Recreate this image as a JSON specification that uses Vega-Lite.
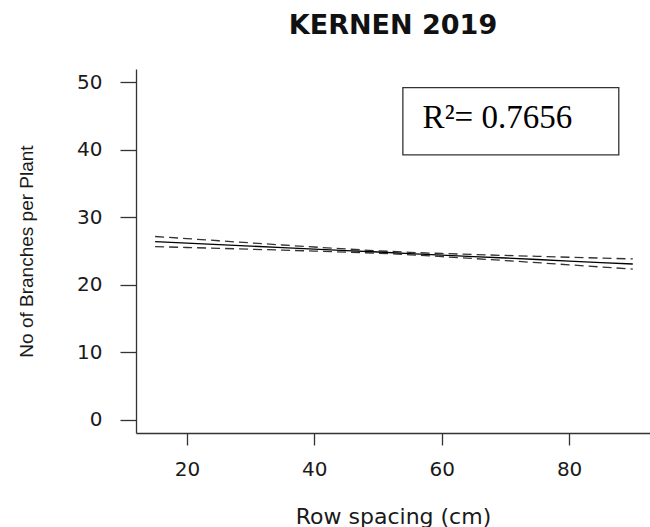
{
  "$schema": "https://vega.github.io/schema/vega-lite/v6.json",
  "autosize": {"type": "none"},
  "padding": {"left": 136, "top": 69, "right": 0, "bottom": 94},
  "width": 514,
  "height": 364,
  "background": "white",
  "title": {
    "text": "KERNEN 2019",
    "font": "DejaVu Sans",
    "fontWeight": "bold",
    "fontSize": 27,
    "color": "#111111",
    "anchor": "middle",
    "baseline": "alphabetic",
    "offset": 8
  },
  "config": {
    "view": {"stroke": null},
    "axis": {
      "grid": false,
      "domainColor": "#333333",
      "domainWidth": 1.3,
      "tickColor": "#333333",
      "tickWidth": 1.3,
      "labelColor": "#1a1a1a",
      "titleColor": "#1a1a1a",
      "titleFontWeight": "normal"
    }
  },
  "datasets": {
    "fit": [
      {"spacing": 15, "fit": 26.40, "lwr": 25.65, "upr": 27.15},
      {"spacing": 20, "fit": 26.18, "lwr": 25.52, "upr": 26.84},
      {"spacing": 25, "fit": 25.96, "lwr": 25.40, "upr": 26.52},
      {"spacing": 30, "fit": 25.73, "lwr": 25.26, "upr": 26.20},
      {"spacing": 35, "fit": 25.51, "lwr": 25.13, "upr": 25.89},
      {"spacing": 40, "fit": 25.29, "lwr": 24.99, "upr": 25.59},
      {"spacing": 45, "fit": 25.07, "lwr": 24.84, "upr": 25.30},
      {"spacing": 50, "fit": 24.85, "lwr": 24.67, "upr": 25.03},
      {"spacing": 55, "fit": 24.62, "lwr": 24.44, "upr": 24.80},
      {"spacing": 60, "fit": 24.40, "lwr": 24.17, "upr": 24.63},
      {"spacing": 65, "fit": 24.18, "lwr": 23.88, "upr": 24.48},
      {"spacing": 70, "fit": 23.96, "lwr": 23.58, "upr": 24.34},
      {"spacing": 75, "fit": 23.74, "lwr": 23.27, "upr": 24.21},
      {"spacing": 80, "fit": 23.51, "lwr": 22.95, "upr": 24.07},
      {"spacing": 85, "fit": 23.29, "lwr": 22.63, "upr": 23.95},
      {"spacing": 90, "fit": 23.07, "lwr": 22.32, "upr": 23.82}
    ],
    "note": [
      {"x0": 53.9, "x1": 87.8, "y0": 39.26, "y1": 49.23, "tx": 57.0, "ty": 43.2, "label": "R²= 0.7656"}
    ]
  },
  "encoding": {
    "x": {
      "field": "spacing",
      "type": "quantitative",
      "scale": {"domain": [12, 92.7], "nice": false, "zero": false},
      "axis": {
        "title": "Row spacing (cm)",
        "values": [20, 40, 60, 80],
        "tickSize": 12,
        "labelPadding": 14,
        "labelFont": "DejaVu Sans",
        "labelFontSize": 20,
        "labelBaseline": "top",
        "titleFont": "DejaVu Sans",
        "titleFontSize": 22,
        "titleBaseline": "alphabetic",
        "titleY": 90
      }
    }
  },
  "layer": [
    {
      "mark": {"type": "rule", "color": "#333333", "strokeWidth": 1.3},
      "encoding": {"y": {"datum": 52, "type": "quantitative", "scale": {"domain": [-2, 52], "nice": false, "zero": false}}, "x": null}
    },
    {
      "data": {"name": "fit"},
      "mark": {"type": "line", "color": "#333333", "strokeWidth": 1.3, "strokeDash": [9, 5]},
      "encoding": {
        "y": {
          "field": "upr",
          "type": "quantitative",
          "scale": {"domain": [-2, 52], "nice": false, "zero": false},
          "axis": {
            "title": "No of Branches per Plant",
            "values": [0, 10, 20, 30, 40, 50],
            "tickSize": 16,
            "labelPadding": 18,
            "labelFont": "DejaVu Sans",
            "labelFontSize": 20,
            "titleFont": "Liberation Sans",
            "titleFontSize": 19,
            "titleBaseline": "alphabetic",
            "titleX": -104
          }
        }
      }
    },
    {
      "data": {"name": "fit"},
      "mark": {"type": "line", "color": "#333333", "strokeWidth": 1.3, "strokeDash": [9, 5]},
      "encoding": {"y": {"field": "lwr", "type": "quantitative"}}
    },
    {
      "data": {"name": "fit"},
      "mark": {"type": "line", "color": "#000000", "strokeWidth": 1.3},
      "encoding": {"y": {"field": "fit", "type": "quantitative"}}
    },
    {
      "data": {"name": "note"},
      "mark": {"type": "rect", "fill": "white", "stroke": "#333333", "strokeWidth": 1.3},
      "encoding": {
        "x": {"field": "x0", "type": "quantitative"},
        "x2": {"field": "x1"},
        "y": {"field": "y0", "type": "quantitative"},
        "y2": {"field": "y1"}
      }
    },
    {
      "data": {"name": "note"},
      "mark": {"type": "text", "font": "Liberation Serif", "fontSize": 33, "align": "left", "baseline": "alphabetic", "color": "#000000"},
      "encoding": {
        "x": {"field": "tx", "type": "quantitative"},
        "y": {"field": "ty", "type": "quantitative"},
        "text": {"field": "label"}
      }
    }
  ]
}
